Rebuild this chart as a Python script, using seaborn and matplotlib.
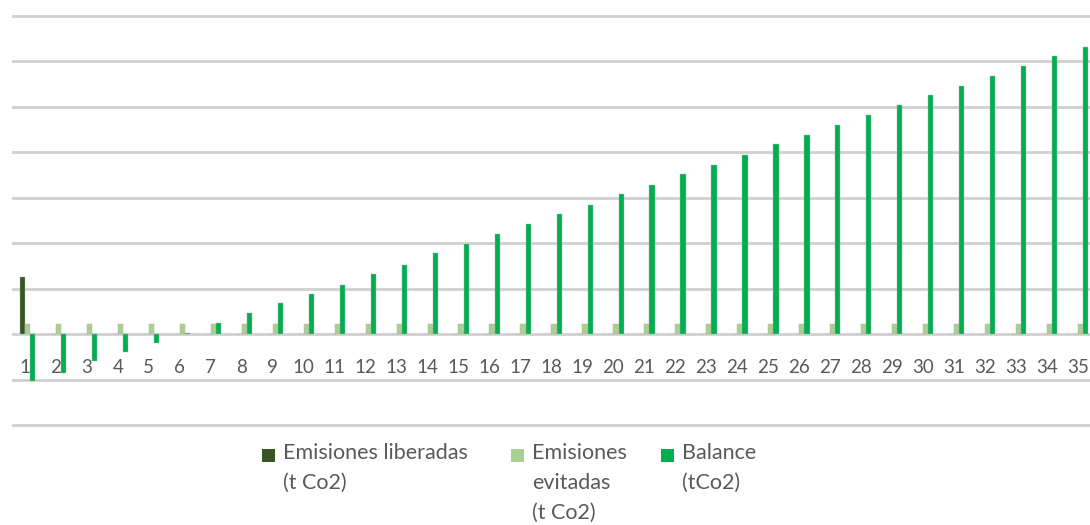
import pandas as pd
import matplotlib
matplotlib.use('Agg')
from matplotlib import pyplot as plt
from matplotlib.patches import Rectangle
import seaborn as sns

# years 1..35, values in t CO2 (one gridline = 1000)
years = [str(i) for i in range(1, 36)]
liberadas = [1270] + [0] * 34
evitadas = [230] * 35
balance = [-1030, -840, -590, -390, -180, 30, 260, 460, 690, 890,
           1090, 1330, 1530, 1780, 1980, 2200, 2430, 2640, 2850, 3080,
           3290, 3530, 3730, 3940, 4180, 4380, 4590, 4830, 5030, 5260,
           5460, 5670, 5900, 6110, 6310]

series = ['Emisiones liberadas (t Co2)', 'Emisiones evitadas (t Co2)', 'Balance (tCo2)']
legend_labels = ['Emisiones liberadas\n(t Co2)', 'Emisiones\nevitadas\n(t Co2)', 'Balance\n(tCo2)']
colors = ['#375623', '#a9d08e', '#00b050']

df = pd.DataFrame({'year': years, series[0]: liberadas,
                   series[1]: evitadas, series[2]: balance})
df = df.melt(id_vars='year', var_name='serie', value_name='t')

sns.set_style('white')
plt.rcParams['font.family'] = ['Lato', 'DejaVu Sans']
grey = '#595959'

fig = plt.figure(figsize=(10.9, 5.25), dpi=100)
ax = fig.add_axes([0.011, 0.1846, 0.9945, 0.7905])

sns.barplot(data=df, x='year', y='t', hue='serie', hue_order=series,
            palette=colors, saturation=1, width=0.5, errorbar=None, legend=False,
            edgecolor='#b0b0b0', linewidth=0.3, ax=ax)

ax.set_ylim(-2060, 7060)
ax.set_xlim(-0.5, 34.5)
ax.set_yticks(range(-2000, 7001, 1000))
ax.yaxis.grid(True, color='#d0d0d0', lw=2.0)
ax.set_axisbelow(True)
ax.tick_params(length=0, labelleft=False, labelbottom=False)
ax.set_xlabel('')
ax.set_ylabel('')
sns.despine(ax=ax, left=True, bottom=True)

# category labels sit just under the zero line
for i, y in enumerate(years):
    ax.text(i - 0.08, -730, y, ha='center', va='center', fontsize=13.5, color=grey)

# legend below the plot, boxes aligned with the first text line
W, H = 1090, 525
box_x = [262, 511, 661]
for bx, lab, c in zip(box_x, legend_labels, colors):
    fig.add_artist(Rectangle((bx / W, (H - 462) / H), 13 / W, 13 / H,
                             transform=fig.transFigure, facecolor=c, edgecolor='none'))
    fig.text((bx + 21) / W, (H - 443) / H, lab, ha='left', va='top',
             fontsize=15.5, color=grey, linespacing=1.62)

fig.savefig('out.png', dpi=100)
